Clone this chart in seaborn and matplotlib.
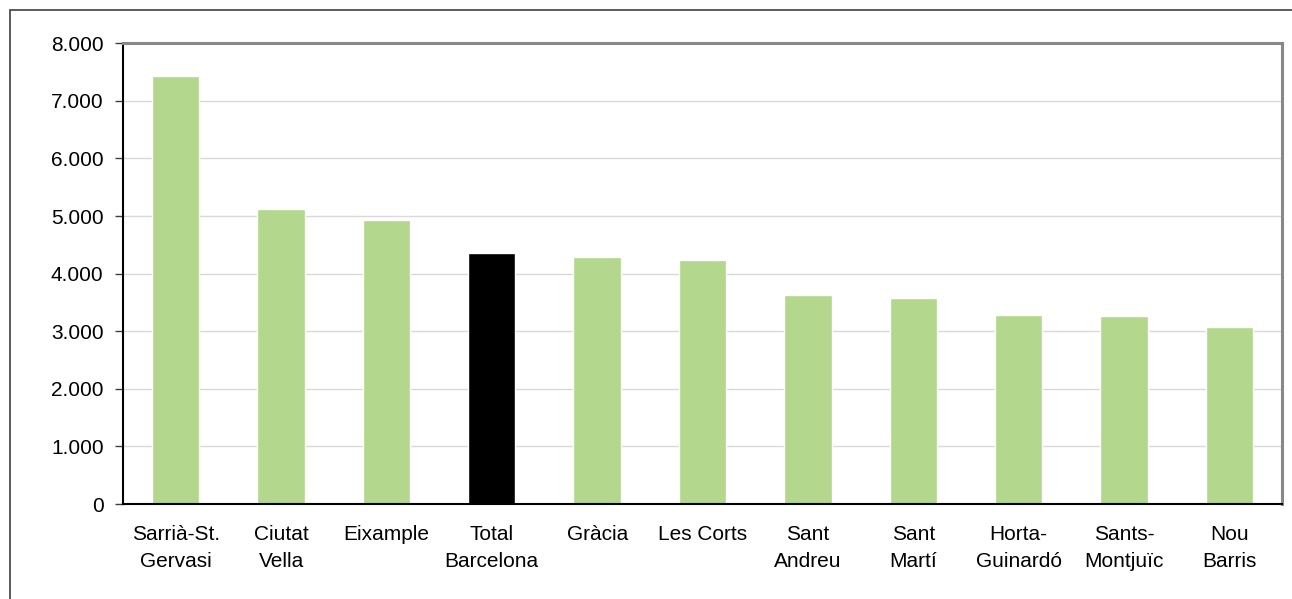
import matplotlib
matplotlib.use("Agg")
import matplotlib.pyplot as plt
from matplotlib.ticker import FuncFormatter, FixedLocator, MultipleLocator
from matplotlib.patches import Rectangle
import seaborn as sns
import pandas as pd

districts = ["Sarrià-St.\nGervasi", "Ciutat\nVella", "Eixample", "Total\nBarcelona",
             "Gràcia", "Les Corts", "Sant\nAndreu", "Sant\nMartí", "Horta-\nGuinardó",
             "Sants-\nMontjuïc", "Nou\nBarris"]
values = [7430, 5120, 4930, 4360, 4290, 4230, 3630, 3580, 3290, 3270, 3070]

green = "#B3D78C"
colors = {d: ("#000000" if d.startswith("Total") else green) for d in districts}

df = pd.DataFrame({"district": districts, "value": values})

sns.set_theme(style="white")
plt.rcParams["font.family"] = ["Liberation Sans", "DejaVu Sans"]

fig = plt.figure(figsize=(12.92, 5.99), dpi=100)
ax = fig.add_axes([123 / 1292, 95 / 599, 1159 / 1292, 460.7 / 599])

sns.barplot(data=df, x="district", y="value", hue="district", palette=colors,
            legend=False, width=0.45, saturation=1, ax=ax, zorder=3)

ax.set_xlim(-0.5, len(districts) - 0.5)
ax.set_ylim(0, 8000)
ax.yaxis.set_major_locator(MultipleLocator(1000))
ax.yaxis.set_major_formatter(FuncFormatter(lambda v, p: f"{int(v):,}".replace(",", ".")))
ax.grid(axis="y", color="#D9D9D9", linewidth=1, zorder=0)
ax.set_axisbelow(True)
ax.set_xlabel("")
ax.set_ylabel("")

ax.xaxis.set_minor_locator(FixedLocator([i - 0.5 for i in range(len(districts) + 1)]))
ax.tick_params(axis="x", which="major", length=0, pad=15, labelsize=15, colors="black")
ax.tick_params(axis="x", which="minor", length=6, width=1, color="#404040", direction="out")
ax.tick_params(axis="y", which="major", length=6, width=1, color="#404040", direction="out",
               left=True, pad=8, labelsize=15, labelcolor="black")
for lbl in ax.get_xticklabels():
    lbl.set_linespacing(1.55)

for side in ("left", "bottom"):
    ax.spines[side].set_color("#000000")
    ax.spines[side].set_linewidth(1.5)
    ax.spines[side].set_zorder(4)
for side in ("top", "right"):
    ax.spines[side].set_color("#888888")
    ax.spines[side].set_linewidth(2.2)
    ax.spines[side].set_zorder(4)

# outer chart frame
fig.patches.append(Rectangle((10 / 1292, -0.05), 1.1, (589 / 599) + 0.05,
                             transform=fig.transFigure, fill=False,
                             edgecolor="#404040", linewidth=1.2))

fig.savefig("out.png", dpi=100, facecolor="white")
